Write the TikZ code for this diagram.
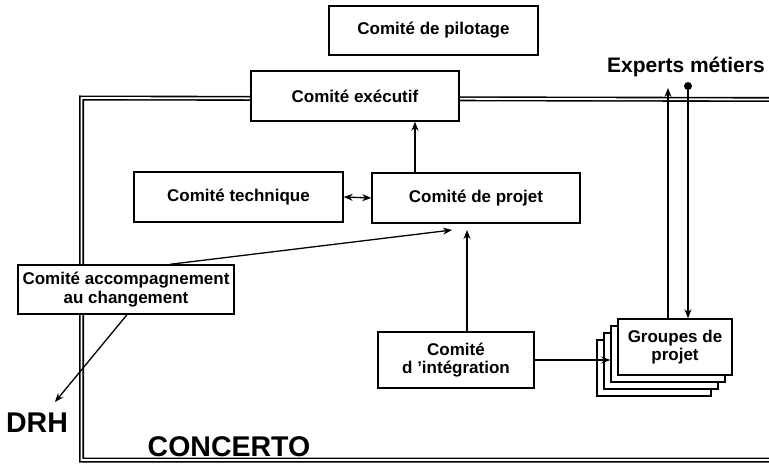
\documentclass[tikz,border=0pt]{standalone}
\usepackage{fontspec}
\setmainfont{Liberation Sans}
\usetikzlibrary{arrows.meta,calc}
\begin{document}
\begin{tikzpicture}[x=1pt,y=-1pt,
  box/.style={draw,line width=1.4pt,fill=white,rectangle,inner sep=1pt,
    font=\fontsize{17}{18.5}\selectfont\bfseries,align=center},
  tip/.style={Stealth[length=9pt,width=7pt]},
  conn/.style={line width=1.3pt,-{Stealth[length=9pt,width=7pt]}},
  frame/.style={double,double distance=1.8pt,line width=1.6pt},
  big/.style={font=\fontsize{28.5}{30}\selectfont\bfseries,inner sep=0pt},
  mid/.style={font=\fontsize{21}{24}\selectfont\bfseries,inner sep=0pt}]
\useasboundingbox (0,0) rectangle (769,466);
\clip (0,0) rectangle (769,466);
% frame
\draw[frame] (780,99.5) -- (81.5,98) -- (81.5,460) -- (780,460);
% nodes
\node[box,minimum width=209pt,minimum height=49pt] (pil) at (433.5,30.5) {Comité de pilotage};
\node[box,minimum width=208pt,minimum height=50pt] (exe) at (355,96) {Comité exécutif};
\node[box,minimum width=209pt,minimum height=50pt] (tec) at (238.5,197) {Comité technique};
\node[box,minimum width=208pt,minimum height=50pt] (pro) at (476,198) {Comité de projet};
\node[box,minimum width=216pt,minimum height=49pt] (acc) at (126,289.5) {Comité accompagnement\\au changement};
\node[box,minimum width=156pt,minimum height=56pt] (int) at (456,360) {Comité\\d ’intégration};
\node[box,minimum width=114pt,minimum height=56pt] (g4) at (654,368) {};
\node[box,minimum width=114pt,minimum height=56pt] (g3) at (661,361) {};
\node[box,minimum width=114pt,minimum height=56pt] (g2) at (668,354) {};
\node[box,minimum width=114pt,minimum height=56pt] (g1) at (675,347) {Groupes de\\projet};
\node[mid] (exp) at (686,67) {Experts métiers};
\node[big] (drh) at (37,423) {DRH};
\node[big] (con) at (229,447) {CONCERTO};
% coordinates
\coordinate (dot) at (688,86);
\coordinate (expup) at (668,88);
\coordinate (prot) at (452,230);
\coordinate (prob) at (467,230);
\coordinate (drhtip) at (55,402);
% connectors
\draw[line width=1.3pt,{Stealth[length=9pt,width=7pt]}-{Stealth[length=9pt,width=7pt]}] (tec.east) -- (pro.west);
\draw[conn] (pro.north -| 415,0) -- (exe.south -| 415,0);
\draw[conn] (acc.north -| 170,0) -- (prot);
\draw[conn] (int.north -| prob) -- (prob);
\draw[conn] (acc.south -| 127,0) -- (drhtip);
\draw[conn] (int.east) -- (int.east -| g2.west);
\draw[conn] (g1.north -| expup) -- (expup);
\fill (dot) circle (4pt);
\draw[conn] (dot) -- (dot |- g1.north);
\end{tikzpicture}
\end{document}
